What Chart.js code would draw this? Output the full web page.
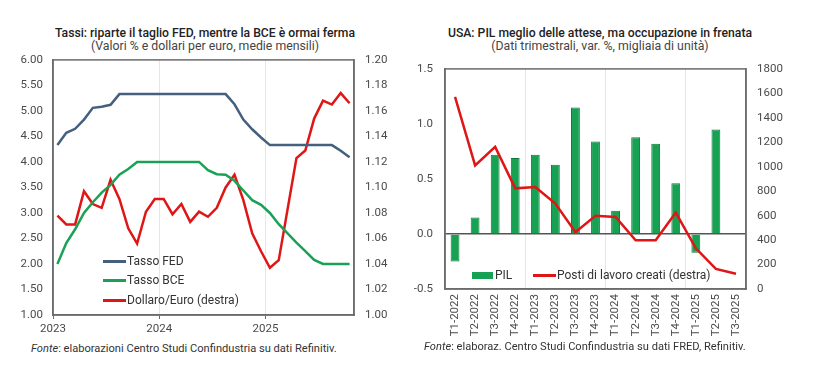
<!DOCTYPE html>
<html>
<head>
<meta charset="utf-8">
<script src="https://cdn.jsdelivr.net/npm/chart.js@4"></script>
<style>
  body { margin: 0; background: #fff; font-family: Roboto, sans-serif; }
  #wrap { position: relative; width: 825px; height: 386px; overflow: hidden; }
  .box { position: absolute; }
  .title { position: absolute; text-align: center; font-size: 12.2px; font-weight: 500; color: #222; white-space: nowrap; }
  .sub { position: absolute; text-align: center; font-size: 12.3px; color: #444; white-space: nowrap; }
  .note { position: absolute; font-size: 11.1px; color: #333; white-space: nowrap; }
  .leg { position: absolute; font-size: 12px; color: #333; white-space: nowrap; display: flex; align-items: center; }
  .ln { display: inline-block; width: 23px; height: 3px; margin-right: 1px; }
  .bx { display: inline-block; width: 21px; height: 7px; margin-right: 2px; background: #17a152; }
</style>
</head>
<body>
<div id="wrap">
  <div class="title" style="left:0;width:410px;top:26px;">Tassi: riparte il taglio FED, mentre la BCE è ormai ferma</div>
  <div class="sub" style="left:0;width:410px;top:39px;">(Valori % e dollari per euro, medie mensili)</div>
  <div class="title" style="left:395px;width:410px;top:26px;">USA: PIL meglio delle attese, ma occupazione in frenata</div>
  <div class="sub" style="left:395px;width:410px;top:39px;">(Dati trimestrali, var. %, migliaia di unità)</div>

  <div class="box" style="left:0;top:50px;width:410px;height:290px;"><canvas id="c1"></canvas></div>
  <div class="box" style="left:410px;top:50px;width:415px;height:295px;"><canvas id="c2"></canvas></div>

  <div class="leg" style="left:103px;top:254px;"><span class="ln" style="background:#45607f"></span>Tasso FED</div>
  <div class="leg" style="left:103px;top:273px;"><span class="ln" style="background:#1ba155"></span>Tasso BCE</div>
  <div class="leg" style="left:103px;top:293px;"><span class="ln" style="background:#e01515"></span>Dollaro/Euro (destra)</div>

  <div class="leg" style="left:472px;top:268px;"><span class="bx"></span>PIL</div>
  <div class="leg" style="left:533px;top:268px;"><span class="ln" style="background:#e01515"></span>Posti di lavoro creati (destra)</div>

  <div class="note" style="left:31px;top:342px;"><i>Fonte</i>: elaborazioni Centro Studi Confindustria su dati Refinitiv.</div>
  <div class="note" style="left:424px;top:340px;"><i>Fonte</i>: elaboraz. Centro Studi Confindustria su dati FRED, Refinitiv.</div>
</div>

<script>
// monthly averages, Jan 2023 .. Oct 2025
const months = ['2023-01','2023-02','2023-03','2023-04','2023-05','2023-06','2023-07','2023-08','2023-09','2023-10','2023-11','2023-12',
  '2024-01','2024-02','2024-03','2024-04','2024-05','2024-06','2024-07','2024-08','2024-09','2024-10','2024-11','2024-12',
  '2025-01','2025-02','2025-03','2025-04','2025-05','2025-06','2025-07','2025-08','2025-09','2025-10'];
const fedRate = [4.33,4.57,4.65,4.83,5.06,5.08,5.12,5.33,5.33,5.33,5.33,5.33,
  5.33,5.33,5.33,5.33,5.33,5.33,5.33,5.33,5.13,4.83,4.64,4.48,
  4.33,4.33,4.33,4.33,4.33,4.33,4.33,4.33,4.22,4.09];
const ecbRate = [2.00,2.41,2.68,3.00,3.21,3.40,3.55,3.75,3.86,4.00,4.00,4.00,
  4.00,4.00,4.00,4.00,4.00,3.84,3.76,3.75,3.63,3.44,3.25,3.16,
  3.00,2.78,2.60,2.42,2.25,2.08,2.00,2.00,2.00,2.00];
const usdEur = [1.078,1.071,1.071,1.097,1.087,1.084,1.106,1.091,1.068,1.056,1.081,1.091,
  1.091,1.079,1.087,1.073,1.081,1.077,1.084,1.100,1.110,1.090,1.064,1.050,
  1.037,1.043,1.083,1.123,1.129,1.154,1.168,1.165,1.174,1.166];
const yearTicks = ['2023','2024','2025'];

// quarterly
const quarters = ['T1-2022','T2-2022','T3-2022','T4-2022','T1-2023','T2-2023','T3-2023','T4-2023',
  'T1-2024','T2-2024','T3-2024','T4-2024','T1-2025','T2-2025','T3-2025'];
const gdp = [-0.25,0.15,0.72,0.69,0.72,0.63,1.15,0.84,0.21,0.88,0.82,0.46,-0.17,0.95,null];
const jobs = [1571,1011,1162,823,834,698,464,599,589,399,399,625,333,164,125];

const axisGray = '#6b6b6b';
const tickFont = { family: 'Roboto', size: 11.5 };
const tickColor = '#4a4a4a';

// draw full frame around the plot area
const framePlugin = {
  id: 'frame',
  afterDraw(chart) {
    const a = chart.chartArea, ctx = chart.ctx;
    ctx.save();
    ctx.strokeStyle = axisGray;
    ctx.lineWidth = 1.5;
    ctx.strokeRect(a.left, a.top, a.right - a.left, a.bottom - a.top);
    ctx.restore();
  }
};

const pts = arr => arr.map((v, i) => ({ x: i + 0.5, y: v }));

new Chart(document.getElementById('c1'), {
  type: 'line',
  data: {
    datasets: [
      { label: 'Tasso FED', data: pts(fedRate), borderColor: '#45607f', borderWidth: 2.5, pointRadius: 0, yAxisID: 'y' },
      { label: 'Tasso BCE', data: pts(ecbRate), borderColor: '#1ba155', borderWidth: 2.5, pointRadius: 0, yAxisID: 'y' },
      { label: 'Dollaro/Euro (destra)', data: pts(usdEur), borderColor: '#e01515', borderWidth: 2.5, pointRadius: 0, yAxisID: 'y2' }
    ]
  },
  options: {
    responsive: true, maintainAspectRatio: false, animation: false,
    layout: { padding: { top: 9, left: 0, right: 0, bottom: 0 } },
    plugins: { legend: { display: false }, tooltip: { enabled: false } },
    scales: {
      x: {
        type: 'linear', min: 0, max: months.length,
        afterBuildTicks: s => { s.ticks = yearTicks.map((t, i) => ({ value: i * 12 })); },
        afterFit: s => { s.height = 25; },
        ticks: { callback: (v) => yearTicks[v / 12], color: tickColor, font: tickFont, padding: 3, maxRotation: 0 },
        grid: { color: ctx => ctx.index > 0 ? '#e6e6e6' : 'transparent', tickColor: axisGray, tickLength: 4 },
        border: { color: axisGray, width: 1.5 }
      },
      y: {
        position: 'left', min: 1, max: 6,
        afterFit: s => { s.width = 53; },
        ticks: { stepSize: 0.5, callback: v => v.toFixed(2), color: tickColor, font: tickFont, padding: 2 },
        grid: { display: false },
        border: { color: axisGray, width: 1.5 }
      },
      y2: {
        position: 'right', min: 1, max: 1.2,
        afterFit: s => { s.width = 56; },
        ticks: { stepSize: 0.02, callback: v => v.toFixed(2), color: tickColor, font: tickFont, padding: 3 },
        grid: { display: false },
        border: { color: axisGray, width: 1.5 }
      }
    }
  },
  plugins: [framePlugin]
});

new Chart(document.getElementById('c2'), {
  data: {
    labels: quarters,
    datasets: [
      { type: 'line', label: 'Posti di lavoro creati (destra)', data: jobs, borderColor: '#e01515', borderWidth: 2.5, pointRadius: 0, yAxisID: 'y2', order: 0 },
      { type: 'bar', label: 'PIL', data: gdp, backgroundColor: '#17a152', borderColor: '#0f7a3c', borderWidth: 1,
        barPercentage: 0.44, categoryPercentage: 1, yAxisID: 'y', order: 1 }
    ]
  },
  options: {
    responsive: true, maintainAspectRatio: false, animation: false,
    layout: { padding: { top: 9, left: 0, right: 0, bottom: 0 } },
    plugins: { legend: { display: false }, tooltip: { enabled: false } },
    scales: {
      x: {
        afterFit: s => { s.height = 56; },
        ticks: { color: tickColor, font: tickFont, minRotation: 90, maxRotation: 90, autoSkip: false, padding: 5 },
        grid: { offset: true, drawTicks: false, color: ctx => (ctx.index > 0 && ctx.index % 4 === 0) ? '#e6e6e6' : 'transparent' },
        border: { color: axisGray, width: 1.5 }
      },
      y: {
        position: 'left', min: -0.5, max: 1.5,
        afterFit: s => { s.width = 35; },
        ticks: { stepSize: 0.5, callback: v => v.toFixed(1), color: tickColor, font: tickFont, padding: 12 },
        grid: { drawTicks: false, lineWidth: 1.5, color: ctx => ctx.tick && ctx.tick.value === 0 ? '#555' : 'transparent' },
        border: { color: axisGray, width: 1.5 }
      },
      y2: {
        position: 'right', min: 0, max: 1800,
        afterFit: s => { s.width = 79; },
        ticks: { stepSize: 200, callback: v => String(v), color: tickColor, font: tickFont, padding: 3 },
        grid: { display: false },
        border: { color: axisGray, width: 1.5 }
      }
    }
  },
  plugins: [framePlugin]
});
</script>
</body>
</html>
